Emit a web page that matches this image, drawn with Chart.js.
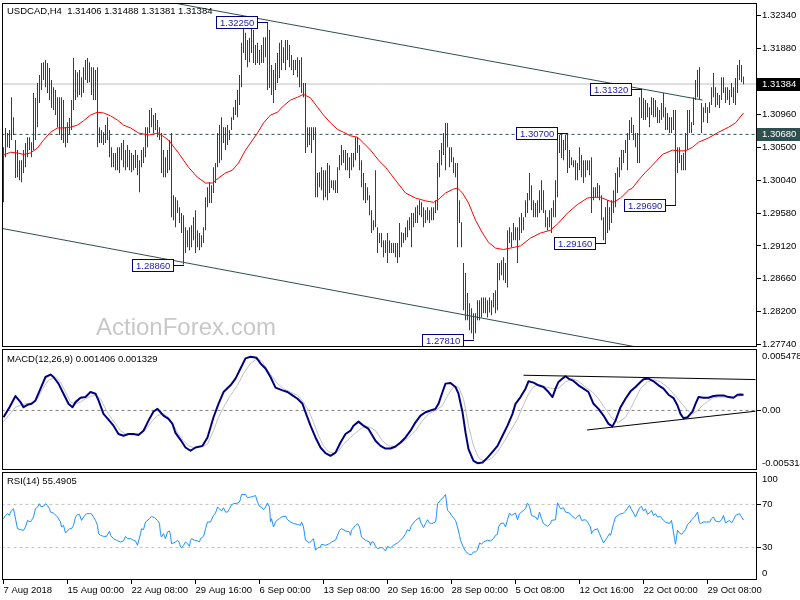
<!DOCTYPE html>
<html>
<head>
<meta charset="utf-8">
<title>USDCAD H4</title>
<script src="https://cdn.jsdelivr.net/npm/chart.js@4.4.1/dist/chart.umd.min.js"></script>
<style>
  html, body { margin: 0; padding: 0; background: #fff; }
  #wrap { position: relative; width: 800px; height: 600px; overflow: hidden; }
  #wrap canvas { position: absolute; left: 0; }
</style>
</head>
<body>
<div id="wrap">
  <canvas id="priceChart" width="800" height="348" style="top:0"></canvas>
  <canvas id="macdChart" width="800" height="122" style="top:348px"></canvas>
  <canvas id="rsiChart" width="800" height="129" style="top:471px"></canvas>
</div>
<script>
// ---------- данные ----------
const symbolName = 'USDCAD,H4';
const lastOHLC = [1.31406, 1.31488, 1.31381, 1.31384];

const timeLabels = ['7 Aug 2018', '15 Aug 00:00', '22 Aug 08:00', '29 Aug 16:00', '6 Sep 00:00', '13 Sep 08:00',
  '20 Sep 16:00', '28 Sep 00:00', '5 Oct 08:00', '12 Oct 16:00', '22 Oct 00:00', '29 Oct 08:00'];
const timeLabelBars = [0, 32, 64, 96, 128, 160, 192, 224, 256, 288, 320, 352];

// H4 бары: максимумы и минимумы
const highs = [
  1.3050, 1.3077, 1.3070, 1.3074, 1.3120, 1.3092, 1.3060, 1.3046, 1.3032, 1.3032,
  1.3046, 1.3056, 1.3064, 1.3064, 1.3057, 1.3126, 1.3119, 1.3140, 1.3151, 1.3168,
  1.3169, 1.3172, 1.3168, 1.3161, 1.3144, 1.3134, 1.3130, 1.3120, 1.3120, 1.3120,
  1.3116, 1.3078, 1.3085, 1.3091, 1.3116, 1.3175, 1.3158, 1.3155, 1.3158, 1.3148,
  1.3162, 1.3172, 1.3175, 1.3169, 1.3162, 1.3162, 1.3158, 1.3162, 1.3078, 1.3074,
  1.3071, 1.3081, 1.3092, 1.3074, 1.3050, 1.3042, 1.3042, 1.3050, 1.3050, 1.3056,
  1.3060, 1.3046, 1.3053, 1.3046, 1.3042, 1.3039, 1.3046, 1.3039, 1.3032, 1.3046,
  1.3050, 1.3078, 1.3078, 1.3102, 1.3105, 1.3095, 1.3098, 1.3088, 1.3078, 1.3070,
  1.3046, 1.3036, 1.3046, 1.3060, 1.3070, 1.2983, 1.2980, 1.2976, 1.2966, 1.2958,
  1.2955, 1.2938, 1.2934, 1.2938, 1.2941, 1.2952, 1.2962, 1.2934, 1.2930, 1.2927,
  1.2938, 1.2980, 1.2994, 1.3001, 1.2997, 1.3022, 1.3028, 1.3070, 1.3081, 1.3092,
  1.3078, 1.3078, 1.3081, 1.3074, 1.3092, 1.3106, 1.3116, 1.3130, 1.3151, 1.3196,
  1.3224, 1.3210, 1.3200, 1.3203, 1.3224, 1.3214, 1.3193, 1.3196, 1.3186, 1.3193,
  1.3204, 1.3204, 1.3225, 1.3214, 1.3165, 1.3158, 1.3168, 1.3182, 1.3196, 1.3200,
  1.3190, 1.3200, 1.3200, 1.3193, 1.3179, 1.3172, 1.3172, 1.3176, 1.3172, 1.3176,
  1.3140, 1.3140, 1.3078, 1.3078, 1.3078, 1.3078, 1.3078, 1.3014, 1.3015, 1.3022,
  1.3018, 1.3018, 1.3028, 1.3025, 1.3004, 1.3004, 1.3004, 1.3022, 1.3039, 1.3053,
  1.3046, 1.3046, 1.3042, 1.3036, 1.3042, 1.3042, 1.3064, 1.3064, 1.3053, 1.3032,
  1.3014, 1.3000, 1.2994, 1.2983, 1.2962, 1.2948, 1.3018, 1.2938, 1.2930, 1.2930,
  1.2920, 1.2920, 1.2930, 1.2920, 1.2916, 1.2916, 1.2916, 1.2916, 1.2944, 1.2931,
  1.2930, 1.2938, 1.2948, 1.2952, 1.2958, 1.2958, 1.2966, 1.2969, 1.2976, 1.2973,
  1.2966, 1.2962, 1.2966, 1.2962, 1.2966, 1.2966, 1.2976, 1.3028, 1.3046, 1.3056,
  1.3070, 1.3084, 1.3084, 1.3050, 1.3050, 1.3036, 1.3028, 1.3028, 1.2976, 1.2945,
  1.2888, 1.2874, 1.2846, 1.2832, 1.2825, 1.2818, 1.2818, 1.2836, 1.2836, 1.2840,
  1.2840, 1.2840, 1.2836, 1.2840, 1.2836, 1.2846, 1.2850, 1.2888, 1.2888, 1.2892,
  1.2896, 1.2888, 1.2934, 1.2938, 1.2931, 1.2944, 1.2938, 1.2938, 1.2952, 1.2958,
  1.2952, 1.2976, 1.2986, 1.3014, 1.2997, 1.2976, 1.2972, 1.2976, 1.2990, 1.3004,
  1.2990, 1.2962, 1.2952, 1.2962, 1.2965, 1.2976, 1.3004, 1.3060, 1.3067, 1.3068,
  1.3060, 1.3067, 1.3070, 1.3046, 1.3036, 1.3032, 1.3032, 1.3028, 1.3050, 1.3039,
  1.3032, 1.3032, 1.3032, 1.3032, 1.3036, 1.2994, 1.2994, 1.3000, 1.2997, 1.2983,
  1.2952, 1.2966, 1.2976, 1.2966, 1.2976, 1.2990, 1.3014, 1.3022, 1.3036, 1.3046,
  1.3046, 1.3060, 1.3070, 1.3088, 1.3092, 1.3081, 1.3070, 1.3070, 1.3120, 1.3132,
  1.3119, 1.3116, 1.3112, 1.3106, 1.3120, 1.3119, 1.3116, 1.3106, 1.3102, 1.3112,
  1.3126, 1.3106, 1.3098, 1.3092, 1.3092, 1.3102, 1.3102, 1.3050, 1.3050, 1.3039,
  1.3042, 1.3070, 1.3102, 1.3102, 1.3085, 1.3120, 1.3144, 1.3158, 1.3162, 1.3112,
  1.3106, 1.3112, 1.3106, 1.3113, 1.3134, 1.3154, 1.3134, 1.3126, 1.3123, 1.3148,
  1.3148, 1.3134, 1.3134, 1.3130, 1.3140, 1.3134, 1.3147, 1.3165, 1.3172, 1.3165,
  1.31488
];
const lows = [
  1.2973, 1.3036, 1.3050, 1.3049, 1.3060, 1.3067, 1.3007, 1.3008, 1.3004, 1.3001,
  1.3014, 1.3022, 1.3036, 1.3046, 1.3036, 1.3046, 1.3060, 1.3078, 1.3112, 1.3130,
  1.3144, 1.3134, 1.3126, 1.3116, 1.3105, 1.3102, 1.3095, 1.3078, 1.3067, 1.3060,
  1.3056, 1.3050, 1.3056, 1.3067, 1.3074, 1.3102, 1.3116, 1.3120, 1.3123, 1.3120,
  1.3126, 1.3144, 1.3140, 1.3141, 1.3123, 1.3116, 1.3116, 1.3050, 1.3056, 1.3056,
  1.3053, 1.3056, 1.3060, 1.3036, 1.3022, 1.3022, 1.3018, 1.3018, 1.3014, 1.3032,
  1.3022, 1.3018, 1.3022, 1.3018, 1.3015, 1.3018, 1.3021, 1.3011, 1.2987, 1.3022,
  1.3028, 1.3036, 1.3050, 1.3070, 1.3078, 1.3070, 1.3074, 1.3064, 1.3060, 1.3014,
  1.3008, 1.3008, 1.3014, 1.3018, 1.2952, 1.2948, 1.2938, 1.2958, 1.2944, 1.2930,
  1.2886, 1.2902, 1.2910, 1.2906, 1.2910, 1.2920, 1.2902, 1.2910, 1.2906, 1.2910,
  1.2916, 1.2934, 1.2966, 1.2972, 1.2972, 1.2986, 1.3000, 1.3022, 1.3028, 1.3032,
  1.3056, 1.3046, 1.3053, 1.3060, 1.3074, 1.3088, 1.3095, 1.3092, 1.3109, 1.3134,
  1.3182, 1.3172, 1.3162, 1.3169, 1.3182, 1.3168, 1.3165, 1.3168, 1.3165, 1.3168,
  1.3168, 1.3176, 1.3130, 1.3133, 1.3123, 1.3112, 1.3130, 1.3140, 1.3147, 1.3158,
  1.3168, 1.3158, 1.3172, 1.3162, 1.3158, 1.3151, 1.3158, 1.3148, 1.3134, 1.3126,
  1.3120, 1.3042, 1.3050, 1.3053, 1.3042, 1.3060, 1.2980, 1.2980, 1.2994, 1.2990,
  1.2976, 1.2980, 1.2976, 1.2986, 1.2993, 1.2990, 1.2986, 1.2986, 1.3018, 1.3025,
  1.3028, 1.3018, 1.3018, 1.3007, 1.3018, 1.3022, 1.3032, 1.3042, 1.3018, 1.2994,
  1.2976, 1.2972, 1.2976, 1.2955, 1.2930, 1.2934, 1.2938, 1.2902, 1.2916, 1.2910,
  1.2896, 1.2902, 1.2888, 1.2902, 1.2902, 1.2902, 1.2896, 1.2888, 1.2896, 1.2910,
  1.2916, 1.2920, 1.2924, 1.2934, 1.2910, 1.2938, 1.2944, 1.2944, 1.2955, 1.2952,
  1.2938, 1.2944, 1.2948, 1.2944, 1.2948, 1.2948, 1.2958, 1.2962, 1.3008, 1.3025,
  1.3039, 1.3018, 1.3050, 1.3022, 1.3029, 1.3014, 1.3008, 1.2910, 1.2944, 1.2910,
  1.2822, 1.2808, 1.2808, 1.2794, 1.2790, 1.2781, 1.2790, 1.2808, 1.2808, 1.2812,
  1.2818, 1.2818, 1.2812, 1.2819, 1.2815, 1.2826, 1.2818, 1.2822, 1.2864, 1.2871,
  1.2864, 1.2860, 1.2854, 1.2916, 1.2910, 1.2920, 1.2920, 1.2888, 1.2920, 1.2930,
  1.2934, 1.2952, 1.2958, 1.2976, 1.2962, 1.2952, 1.2952, 1.2952, 1.2958, 1.2962,
  1.2958, 1.2938, 1.2934, 1.2938, 1.2930, 1.2952, 1.2952, 1.2980, 1.3042, 1.3035,
  1.3032, 1.3046, 1.3014, 1.3021, 1.3025, 1.3022, 1.3004, 1.3004, 1.3018, 1.3008,
  1.3000, 1.3008, 1.3018, 1.3011, 1.2958, 1.2976, 1.2980, 1.2980, 1.2976, 1.2948,
  1.2920, 1.2916, 1.2930, 1.2934, 1.2944, 1.2958, 1.2966, 1.2986, 1.3008, 1.3018,
  1.3028, 1.3042, 1.3018, 1.3060, 1.3070, 1.3060, 1.3050, 1.3028, 1.3028, 1.3091,
  1.3088, 1.3088, 1.3092, 1.3078, 1.3095, 1.3092, 1.3092, 1.3084, 1.3084, 1.3088,
  1.3092, 1.3074, 1.3074, 1.3070, 1.3070, 1.3074, 1.2969, 1.3014, 1.3028, 1.3018,
  1.3018, 1.3018, 1.3046, 1.3070, 1.3070, 1.3081, 1.3116, 1.3120, 1.3116, 1.3070,
  1.3085, 1.3098, 1.3084, 1.3098, 1.3109, 1.3120, 1.3106, 1.3109, 1.3105, 1.3116,
  1.3126, 1.3112, 1.3116, 1.3109, 1.3120, 1.3112, 1.3109, 1.3126, 1.3144, 1.3141,
  1.31381
];

// скользящая средняя: [бар, значение]
const maPoints = [[0,1.3039],[3.5,1.3043],[7,1.3042],[10,1.3040],[13.5,1.3042],[17,1.3049],[20,1.3060],[23.5,1.3071],
  [27,1.3077],[30,1.3077],[33.5,1.3078],[37,1.3081],[40,1.3087],[43.5,1.3095],[47,1.3099],[50,1.3098],[53.5,1.3094],
  [57,1.3088],[60,1.3081],[63.5,1.3077],[67.5,1.3070],[72.5,1.3067],[77.5,1.3070],[82.5,1.3060],[87.5,1.3042],
  [92.5,1.3022],[97,1.3008],[101,1.3000],[104.5,1.3000],[107.5,1.3007],[111,1.3014],[114.5,1.3018],[117.5,1.3028],
  [121,1.3046],[123.5,1.3056],[127,1.3070],[130,1.3084],[133.5,1.3095],[137,1.3099],[140,1.3108],[143.5,1.3116],
  [147,1.3120],[150,1.3124],[153.5,1.3119],[157,1.3106],[160,1.3095],[163.5,1.3084],[167,1.3075],[170,1.3071],
  [173.5,1.3066],[177,1.3064],[180,1.3056],[183.5,1.3046],[187.5,1.3032],[191,1.3022],[196,1.3004],[201,1.2986],
  [206,1.2979],[211,1.2975],[215,1.2973],[217.5,1.2977],[221,1.2986],[224.5,1.2991],[227,1.2993],[229.5,1.2986],
  [232.5,1.2972],[236,1.2948],[239.5,1.2930],[242.5,1.2917],[246,1.2909],[250,1.2907],[253.5,1.2909],[258.5,1.2912],
  [263.5,1.2923],[268.5,1.2930],[273.5,1.2934],[277.5,1.2944],[282,1.2958],[287,1.2970],[292,1.2979],[295,1.2980],
  [298.5,1.2980],[302,1.2976],[305,1.2973],[308.5,1.2979],[312.5,1.2990],[314.5,1.2993],[317.5,1.3004],[321,1.3015],
  [324.5,1.3025],[329.5,1.3040],[334.5,1.3046],[337.5,1.3045],[341,1.3045],[344.5,1.3050],[347.5,1.3057],
  [352.5,1.3063],[357.5,1.3071],[362.5,1.3078],[366,1.3084],[370,1.3098]];

const priceRange = [1.277064, 1.325176];
const priceTicks = [1.32340, 1.31880, 1.31420, 1.30960, 1.30500, 1.30040, 1.29580, 1.29120, 1.28660, 1.28200, 1.27740];
const bidPrice = 1.31384;
const levelPrice = 1.30680;
// отмеченные экстремумы: [бар, цена]
const swingPoints = [[132, 1.32250], [90, 1.28860], [235, 1.27810], [282, 1.30700], [301, 1.29160], [319, 1.31320], [336, 1.29690]];
// канал: [бар, цена]
const upperChannel = [[60, 1.32647], [349.5, 1.31160]];
const lowerChannel = [[-2, 1.29371], [330, 1.27636]];

// MACD(12,26,9)
const macdRange = [-0.005314, 0.005478];
const macdPoints = [[0,-0.00061],[3,0.00029],[6,0.00128],[8.5,0.00074],[10,0.00029],[12,0.00050],[14,0.00059],[16,0.00089],
  [18.5,0.00194],[21,0.00298],[23.5,0.00320],[25,0.00298],[27.5,0.00239],[30,0.00149],[32.5,0.00059],[34.5,0.00029],
  [36,0.00074],[38.5,0.00113],[41,0.00119],[43.5,0.00164],[46,0.00149],[47.5,0.00089],[50,-0.00031],[52.5,-0.00082],
  [55,-0.00136],[57.5,-0.00210],[60,-0.00226],[62.5,-0.00210],[65,-0.00210],[67.5,-0.00219],[70,-0.00181],
  [72.5,-0.00091],[75,-0.00010],[77,0.00014],[78.5,-0.00016],[80,-0.00046],[82.5,-0.00076],[84.5,-0.00120],
  [86,-0.00201],[88.5,-0.00262],[91,-0.00331],[93.5,-0.00360],[96,-0.00331],[99.5,-0.00316],[102,-0.00241],
  [105,-0.00061],[107.5,0.00059],[110,0.00164],[113.5,0.00224],[116,0.00284],[118.5,0.00374],[121,0.00464],
  [123.5,0.00478],[126.5,0.00469],[128.5,0.00419],[131,0.00374],[133.5,0.00298],[136,0.00203],[139.5,0.00179],
  [142,0.00164],[144.5,0.00134],[147,0.00104],[149.5,0.00059],[151,-0.00016],[153.5,-0.00136],[156,-0.00241],
  [158.5,-0.00331],[161,-0.00381],[163.5,-0.00405],[166,-0.00376],[168.5,-0.00286],[171,-0.00210],[173.5,-0.00181],
  [175,-0.00136],[177.5,-0.00100],[180,-0.00136],[182.5,-0.00165],[186,-0.00271],[188.5,-0.00316],[191,-0.00340],
  [193.5,-0.00340],[196,-0.00322],[198.5,-0.00286],[201,-0.00241],[203.5,-0.00181],[206,-0.00106],[208.5,-0.00046],
  [211,-0.00016],[213.5,-0.00001],[216,0.00014],[217.5,0.00059],[219.5,0.00164],[221,0.00239],[223.5,0.00245],
  [226,0.00209],[227.5,0.00149],[229.5,-0.00016],[231,-0.00196],[232.5,-0.00345],[235,-0.00450],[237,-0.00471],
  [239.5,-0.00465],[242,-0.00421],[244.5,-0.00369],[247,-0.00316],[249.5,-0.00226],[252,-0.00136],[254.5,-0.00031],
  [256,0.00059],[258.5,0.00119],[261,0.00194],[262.5,0.00260],[265,0.00248],[267.5,0.00224],[270,0.00209],
  [272.5,0.00164],[274.5,0.00119],[276,0.00194],[277.5,0.00254],[279.5,0.00284],[281,0.00305],[282.5,0.00284],
  [285,0.00263],[287.5,0.00224],[290,0.00194],[292.5,0.00164],[295,0.00059],[297.5,0.00014],[300,-0.00046],
  [302.5,-0.00120],[304.5,-0.00142],[306,-0.00091],[308.5,0.00029],[311,0.00104],[313.5,0.00170],[316,0.00209],
  [318.5,0.00254],[320,0.00278],[322.5,0.00284],[325,0.00260],[327.5,0.00224],[330,0.00194],[332.5,0.00140],
  [335,0.00110],[337,0.00044],[338.5,-0.00031],[340,-0.00070],[342,-0.00061],[344.5,-0.00010],[346,0.00059],
  [347.5,0.00119],[350,0.00113],[352.5,0.00113],[355,0.00128],[357.5,0.00134],[360,0.00134],[362.5,0.00119],
  [365,0.00113],[367,0.00140],[368.5,0.00143],[370,0.001406]];
const signalPoints = [[0,-0.00100],[2.5,-0.00046],[6,0.00029],[8.5,0.00044],[11,0.00059],[14.5,0.00068],[17,0.00104],
  [19.5,0.00194],[22.5,0.00269],[26,0.00298],[28.5,0.00254],[31,0.00164],[33.5,0.00074],[36,0.00059],[38.5,0.00074],
  [41,0.00104],[43.5,0.00125],[46,0.00134],[48.5,0.00104],[51,0.00014],[53.5,-0.00061],[56,-0.00120],[58.5,-0.00181],
  [61,-0.00210],[64.5,-0.00219],[67,-0.00210],[69.5,-0.00196],[72,-0.00151],[74.5,-0.00091],[77,-0.00046],
  [80,-0.00031],[82.5,-0.00061],[85,-0.00136],[87.5,-0.00210],[90,-0.00271],[92.5,-0.00316],[95,-0.00331],
  [98.5,-0.00331],[102,-0.00301],[105,-0.00181],[107.5,-0.00061],[110,0.00029],[113.5,0.00134],[117,0.00224],
  [120,0.00329],[123.5,0.00419],[127,0.00464],[129.5,0.00434],[132,0.00359],[134.5,0.00298],[137,0.00239],
  [140,0.00194],[143.5,0.00164],[147,0.00134],[150,0.00074],[152.5,-0.00001],[155,-0.00106],[157.5,-0.00226],
  [160,-0.00316],[162.5,-0.00369],[165,-0.00381],[167.5,-0.00360],[170,-0.00301],[173.5,-0.00241],[176,-0.00201],
  [178.5,-0.00165],[181,-0.00142],[183.5,-0.00151],[186,-0.00181],[189.5,-0.00271],[192.5,-0.00316],[196,-0.00322],
  [199.5,-0.00286],[202.5,-0.00241],[206,-0.00181],[209.5,-0.00091],[212.5,-0.00031],[216,-0.00001],[219.5,0.00044],
  [222,0.00134],[225,0.00209],[227.5,0.00209],[230,0.00104],[232.5,-0.00136],[235,-0.00316],[237.5,-0.00421],
  [240,-0.00450],[243.5,-0.00435],[247,-0.00369],[250,-0.00286],[253.5,-0.00181],[257,-0.00076],[260,0.00050],
  [262.5,0.00149],[265,0.00209],[267.5,0.00230],[271,0.00209],[274.5,0.00194],[277.5,0.00200],[281,0.00254],
  [284.5,0.00284],[287.5,0.00260],[291,0.00209],[294.5,0.00164],[297.5,0.00104],[301,0.00014],[304.5,-0.00076],
  [307.5,-0.00106],[311,-0.00061],[313.5,0.00014],[316,0.00104],[318.5,0.00194],[322,0.00254],[325,0.00275],
  [328.5,0.00254],[332,0.00209],[335,0.00149],[338.5,0.00074],[342,-0.00001],[344.5,-0.00031],[347,-0.00001],
  [349.5,0.00044],[352,0.00080],[354.5,0.00110],[357.5,0.00119],[361,0.00119],[364.5,0.00119],[367.5,0.00128],
  [370,0.001329]];
const macdUpperLine = [[260, 0.003138], [376, 0.002751]];
const macdLowerLine = [[291.8, -0.001744], [376, -0.000072]];

// RSI(14)
const rsiRange = [0, 100];
const rsiLevels = [30, 70];
const rsiPoints = [[0,56.8],[1,59.8],[2,61.4],[3,59.8],[3.5,62.9],[5,66.0],[5.5,61.4],[7,47.5],[8.5,46.6],[10,46.0],
  [11,49.1],[12,55.2],[13.5,53.7],[14,55.2],[15,58.3],[16,66.0],[17,67.5],[18,70.6],[18.5,68.2],[20,68.2],[21,70.6],
  [22,69.1],[23,66.0],[23.5,62.9],[25,62.0],[27,58.3],[28.5,53.7],[29,49.1],[30,50.6],[31,43.5],[33,47.5],[34,47.5],
  [35,50.6],[36,58.3],[37,60.5],[38,60.5],[39,55.2],[40,58.3],[41.5,61.4],[43,61.4],[44,61.4],[45,58.3],[46,55.2],
  [47,50.6],[47.5,42.9],[48.5,41.4],[50,40.4],[51.5,40.4],[53,45.1],[53.5,41.4],[55,38.3],[56.5,36.8],[58.5,35.2],
  [60,36.2],[61,40.4],[62,38.3],[63.5,38.3],[65,36.8],[66,36.2],[67,32.1],[68.5,42.9],[69,47.5],[70,46.6],[71,53.7],
  [73,56.8],[74,58.9],[75.5,57.7],[77,55.2],[78,52.2],[78.5,42.9],[79,39.8],[80,42.9],[81,38.3],[82,44.5],[83,45.4],
  [83.5,41.4],[84,33.7],[85,34.3],[86,35.2],[87,36.8],[88,34.3],[88.5,30.6],[89,29.7],[90,32.1],[91,35.2],[92,33.7],
  [93,31.2],[93.5,36.8],[94,38.3],[95.5,36.8],[97,36.2],[98,35.2],[98.5,38.3],[100,40.4],[100.5,43.5],[101,47.5],
  [102,53.7],[103.5,53.7],[105,59.8],[106,62.0],[107,67.5],[108,66.0],[109,63.8],[110,66.9],[111,62.9],[112,62.9],
  [113,66.0],[114,69.7],[115,70.6],[117,71.2],[118,72.2],[118.5,75.2],[119,79.2],[121,79.2],[122,76.2],[123.5,76.8],
  [125,77.4],[126,78.3],[127,72.2],[128,68.2],[129,67.5],[130,65.1],[131,67.5],[132,71.2],[133,67.5],[133.5,53.7],
  [134,56.8],[135,49.1],[136,53.7],[137,55.8],[138,56.8],[139,58.3],[141,59.2],[142,55.8],[143.5,53.7],[145,52.2],
  [147,51.5],[148.5,50.6],[149,53.7],[150,49.1],[151,36.8],[153,34.3],[154,36.2],[155,38.3],[156,27.5],[157,29.7],
  [158.5,30.6],[159,33.1],[161,32.1],[163,33.7],[164,35.2],[166,36.8],[167,41.4],[168,46.0],[169,47.5],[171,45.4],
  [173,44.5],[173.5,41.4],[174,46.0],[176,50.6],[177,52.2],[178,49.1],[178.5,44.5],[179,39.8],[181,36.8],[183,35.2],
  [183.5,32.1],[184,35.2],[185,35.2],[186,31.2],[187,29.1],[188.5,30.0],[189.5,30.0],[191,26.9],[192,31.2],
  [193.5,29.7],[195,32.1],[197,34.3],[198.5,36.8],[200,39.8],[201,42.9],[202,46.6],[203,45.4],[204,50.6],[205,52.8],
  [206,55.2],[208,57.7],[208.5,53.7],[209,52.2],[210,48.5],[211,52.2],[212,55.8],[213,52.8],[214,52.2],[216,53.7],
  [216.5,59.8],[217,70.6],[218.5,73.7],[220,76.8],[221,79.2],[222,64.5],[223,62.9],[224,59.8],[226,55.2],[227,49.1],
  [228,41.4],[228.5,36.8],[230,30.0],[231,26.6],[233,23.5],[234,23.5],[235,26.0],[236,26.0],[237,27.5],[238,34.3],
  [239,33.1],[240,35.2],[242,36.8],[243.5,36.2],[245,38.3],[246,41.4],[247,42.3],[247.5,49.1],[248.5,52.2],
  [250,52.8],[251,49.1],[252,55.8],[253,62.0],[254,59.8],[256,62.0],[257,55.8],[258,61.4],[259,62.9],[261,66.0],
  [262,71.2],[263,68.2],[264,59.8],[266,58.3],[267,55.8],[268,62.9],[269,56.8],[270,52.2],[272,49.7],[273.5,52.2],
  [274,55.2],[276,55.8],[277,71.5],[278.5,66.0],[280,66.9],[281,62.9],[283,62.0],[284,59.8],[286,56.8],[287,58.3],
  [288,60.5],[289,55.2],[291,55.8],[292,53.7],[293.5,49.1],[294,42.9],[295,46.0],[297,47.5],[298,42.9],[299,38.3],
  [300,34.3],[301.5,38.3],[303,42.9],[303.5,41.4],[304,44.5],[305,52.2],[306,58.3],[308,60.8],[310,62.0],[311,63.8],
  [313,69.1],[314,65.1],[315,62.0],[316,58.3],[318,66.9],[319,68.2],[320,63.8],[321,66.0],[322,60.8],[323.5,62.9],
  [324,64.5],[325,59.8],[326,61.4],[327,58.3],[328.5,58.9],[330,55.2],[331,53.7],[333,52.2],[334,55.2],[335.5,38.3],
  [336,33.1],[337,46.0],[338,43.5],[339,42.3],[341,46.6],[342,51.5],[343,52.8],[344,55.8],[345.5,58.3],[347,62.9],
  [348,52.8],[348.5,52.2],[350,53.7],[353,53.7],[354,56.8],[355,58.3],[356,54.6],[358,53.7],[359,55.8],[360,59.8],
  [361,52.8],[363,55.2],[364,52.8],[365,55.8],[366,59.8],[368,61.4],[368.5,59.8],[370,55.4905]];

// ---------- оформление ----------
const FONT_FAMILY = '"Liberation Sans", Arial, sans-serif';
const SMALL_FONT = '9.5px ' + FONT_FAMILY;
const AXIS_WIDTH = 43;
const BAR_RANGE = [-0.75, 376.75];   // 2 px на бар
const BAR_COLOR = '#124a63';

Chart.defaults.font.family = FONT_FAMILY;
Chart.defaults.font.size = 9.5;
Chart.defaults.color = '#000';

function lineSet(points, color, width, dash, order) {
  return {
    type: 'line',
    data: points.map(([x, y]) => ({ x, y })),
    borderColor: color,
    borderWidth: width,
    borderDash: dash,
    borderJoinStyle: 'round',
    pointRadius: 0,
    tension: 0,
    fill: false,
    order
  };
}

function timeScale(show) {
  return {
    type: 'linear', min: BAR_RANGE[0], max: BAR_RANGE[1], bounds: 'data', offset: false, display: show,
    grid: { drawOnChartArea: false, offset: false, tickLength: 4, tickColor: '#000' },
    border: { display: false },
    ticks: { align: 'start', autoSkip: false, maxRotation: 0, padding: 1, callback: (v, i) => timeLabels[i] },
    afterBuildTicks: s => { s.ticks = timeLabelBars.map(value => ({ value })); },
    afterFit: s => { if (show) { s.height = 20; s.paddingLeft = 0; s.paddingRight = 0; } }
  };
}

function valueScale(range, tickValues, tickText, hideEndMarks) {
  const n = tickValues.length;
  return {
    type: 'linear', position: 'right', min: range[0], max: range[1], bounds: 'data',
    grid: {
      drawOnChartArea: false, tickLength: 4,
      tickColor: c => (hideEndMarks && (c.index === 0 || c.index === n - 1)) ? 'rgba(0,0,0,0)' : '#000'
    },
    border: { display: false },
    ticks: { padding: 1, autoSkip: false, callback: (v, i) => tickText[i] },
    afterBuildTicks: s => { s.ticks = tickValues.map(value => ({ value })); },
    afterFit: s => { s.width = AXIS_WIDTH; s.paddingTop = 0; s.paddingBottom = 0; }
  };
}

function paneOptions(padding, yScale, showTime) {
  return {
    responsive: false,
    animation: false,
    events: [],
    devicePixelRatio: 1,
    layout: { padding },
    plugins: { legend: { display: false }, tooltip: { enabled: false } },
    scales: { x: timeScale(showTime), y: yScale }
  };
}

function drawTexts(ctx, items) {
  ctx.save();
  items.forEach(t => {
    ctx.font = t.font || SMALL_FONT;
    ctx.fillStyle = t.color || '#000';
    ctx.textAlign = 'left';
    ctx.textBaseline = t.baseline || 'middle';
    ctx.fillText(t.text, t.x, t.y);
  });
  ctx.restore();
}

function textPlugin(back, front) {
  return {
    id: 'paneText',
    beforeDatasetsDraw(chart) { drawTexts(chart.ctx, back); },
    afterDatasetsDraw(chart) { drawTexts(chart.ctx, front); }
  };
}

// рамка окна как в терминале
const paneFrame = {
  id: 'paneFrame',
  afterDraw(chart) {
    const { ctx, chartArea: a } = chart;
    ctx.save();
    ctx.strokeStyle = '#000';
    ctx.lineWidth = 1;
    ctx.strokeRect(a.left + 0.5, a.top + 0.5, a.right - a.left - 1, a.bottom - a.top - 1);
    ctx.restore();
  }
};

// подписи экстремумов
const swingBoxes = {
  id: 'swingBoxes',
  afterDatasetsDraw(chart) {
    const { ctx, scales: { x, y } } = chart;
    ctx.save();
    ctx.font = SMALL_FONT;
    ctx.lineWidth = 1;
    swingPoints.forEach(([bar, price]) => {
      const text = price.toFixed(5);
      const px = Math.floor(x.getPixelForValue(bar));
      const py = Math.round(y.getPixelForValue(price));
      const w = Math.round(ctx.measureText(text).width) + 8, h = 13;
      const right = px - 9, left = right - w, top = py - 6;
      ctx.strokeStyle = '#000080';
      ctx.beginPath();
      ctx.moveTo(right, py + 0.5);
      ctx.lineTo(px + 1, py + 0.5);
      ctx.stroke();
      ctx.fillStyle = '#fff';
      ctx.fillRect(left, top, w, h);
      ctx.strokeRect(left + 0.5, top + 0.5, w - 1, h - 1);
      ctx.fillStyle = '#1c1ca8';
      ctx.textAlign = 'left';
      ctx.textBaseline = 'middle';
      ctx.fillText(text, left + 4, top + h / 2 + 0.5);
    });
    ctx.restore();
  }
};

// метки цены на правой шкале
const priceTags = {
  id: 'priceTags',
  afterDraw(chart) {
    const { ctx, chartArea, scales: { y } } = chart;
    ctx.save();
    ctx.font = SMALL_FONT;
    ctx.textBaseline = 'middle';
    [[bidPrice, '#000000'], [levelPrice, '#2f4f4f']].forEach(([p, bg]) => {
      const py = Math.round(y.getPixelForValue(p));
      ctx.fillStyle = bg;
      ctx.fillRect(chartArea.right, py - 6, chart.width - chartArea.right, 13);
      ctx.fillStyle = '#fff';
      ctx.fillText(p.toFixed(5), chartArea.right + 5, py + 0.5);
    });
    ctx.restore();
  }
};

// ---------- график цены ----------
const priceTitle = symbolName + '  ' + lastOHLC.map(v => v.toFixed(5)).join(' ');

new Chart(document.getElementById('priceChart'), {
  type: 'line',
  data: {
    datasets: [
      lineSet([[-1, bidPrice], [377, bidPrice]], '#c0c0c0', 1, [], 6),
      lineSet([[-1, levelPrice], [377, levelPrice]], '#2f4f4f', 1, [3, 3], 5),
      {
        type: 'bar',
        data: highs.map((h, i) => ({ x: i, y: [lows[i], h] })),
        backgroundColor: BAR_COLOR,
        borderWidth: 0,
        barThickness: 1,
        inflateAmount: 0,
        grouped: false,
        order: 3
      },
      lineSet(upperChannel, '#2f4f4f', 1, [], 2),
      lineSet(lowerChannel, '#2f4f4f', 1, [], 2),
      lineSet(maPoints, '#ff0000', 1, [], 1)
    ]
  },
  options: paneOptions({ left: 2, top: 3, right: 0, bottom: 1 },
    valueScale(priceRange, priceTicks, priceTicks.map(v => v.toFixed(5)), false), false),
  plugins: [
    textPlugin(
      [{ text: 'ActionForex.com', x: 96, y: 335, font: '24px ' + FONT_FAMILY, color: '#c8c8c8', baseline: 'alphabetic' }],
      [{ text: priceTitle, x: 7, y: 11.5 }]
    ),
    swingBoxes, paneFrame, priceTags
  ]
});

// ---------- MACD ----------
const macdInset = (macdRange[1] - macdRange[0]) * 7 / 121;
const macdTitle = 'MACD(12,26,9) ' + macdPoints[macdPoints.length - 1][1].toFixed(6) + ' ' +
  signalPoints[signalPoints.length - 1][1].toFixed(6);

new Chart(document.getElementById('macdChart'), {
  type: 'line',
  data: {
    datasets: [
      lineSet([[-1, 0], [377, 0]], '#808080', 1, [3, 3], 4),
      lineSet(signalPoints, '#c0c0c0', 1, [], 3),
      lineSet(macdPoints, '#000080', 2, [], 2),
      lineSet(macdUpperLine, '#000000', 1, [], 1),
      lineSet(macdLowerLine, '#000000', 1, [], 1)
    ]
  },
  options: paneOptions({ left: 2, top: 1, right: 0, bottom: 0 },
    valueScale(macdRange, [macdRange[0] + macdInset, 0, macdRange[1] - macdInset],
      [macdRange[0].toFixed(6), '0.00', macdRange[1].toFixed(6)], true), false),
  plugins: [textPlugin([], [{ text: macdTitle, x: 7, y: 11 }]), paneFrame]
});

// ---------- RSI ----------
const rsiInset = 6.5;
const rsiTitle = 'RSI(14) ' + rsiPoints[rsiPoints.length - 1][1].toFixed(4);

new Chart(document.getElementById('rsiChart'), {
  type: 'line',
  data: {
    datasets: [
      lineSet([[-1, rsiLevels[0]], [377, rsiLevels[0]]], '#c0c0c0', 1, [3, 3], 3),
      lineSet([[-1, rsiLevels[1]], [377, rsiLevels[1]]], '#c0c0c0', 1, [3, 3], 3),
      lineSet(rsiPoints, '#1e90ff', 1, [], 1)
    ]
  },
  options: paneOptions({ left: 2, top: 1, right: 0, bottom: 0 },
    valueScale(rsiRange, [rsiRange[0] + rsiInset, rsiLevels[0], rsiLevels[1], rsiRange[1] - rsiInset],
      ['0', String(rsiLevels[0]), String(rsiLevels[1]), '100'], true), true),
  plugins: [textPlugin([], [{ text: rsiTitle, x: 7, y: 10 }]), paneFrame]
});
</script>
</body>
</html>
